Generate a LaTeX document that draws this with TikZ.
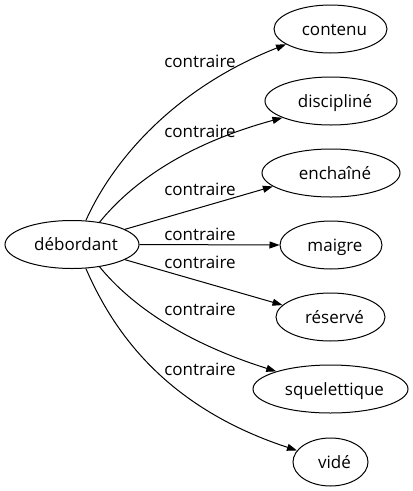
\documentclass[tikz,border=0pt]{standalone}
\usepackage{fontspec}
\setmainfont{Open Sans}
\usetikzlibrary{shapes.geometric,arrows.meta}
\begin{document}
\begin{tikzpicture}[x=1pt,y=1pt,
  every node/.style={font=\fontsize{17}{20}\selectfont},
  word/.style={draw, ellipse, line width=1pt, minimum height=48pt, inner sep=0pt, text height=12pt, text depth=0pt, execute at begin node=\hspace*{8pt}},
  lbl/.style={inner sep=0pt, text height=12pt, text depth=0pt},
  rel/.style={line width=1pt, -{Triangle[length=10pt,width=7pt]}}]
\fill[white] (0,0) rectangle (413,-491);
\useasboundingbox (0,0) rectangle (413,-491);
\node[word, minimum width=134pt] (deb) at (72,-244.5) {débordant};
\node[word, minimum width=113pt] (n1) at (330.5,-29) {contenu};
\node[word, minimum width=132pt] (n2) at (331,-101) {discipliné};
\node[word, minimum width=138pt] (n3) at (331,-173) {enchaîné};
\node[word, minimum width=102pt] (n4) at (331,-245) {maigre};
\node[word, minimum width=109pt] (n5) at (330.5,-317) {réservé};
\node[word, minimum width=155pt] (n6) at (330.5,-389) {squelettique};
\node[word, minimum width=75pt] (n7) at (330.5,-462) {vidé};
\node[lbl] (l1) at (200,-61) {contraire};
\node[lbl] (l2) at (200,-131) {contraire};
\node[lbl] (l3) at (200,-189) {contraire};
\node[lbl] (l4) at (200,-234) {contraire};
\node[lbl] (l5) at (200,-262) {contraire};
\node[lbl] (l6) at (200,-309) {contraire};
\node[lbl] (l7) at (200,-369) {contraire};
\draw[rel] (deb.60) .. controls +(25,56) and +(-116,-46) .. (n1.199);
\draw[rel] (deb.39) .. controls +(31,38) and +(-99,-27) .. (n2.199.5);
\draw[rel] (deb.16) -- (n3.193);
\draw[rel] (deb.0) -- (n4.180);
\draw[rel] (deb.-16) -- (n5.166);
\draw[rel] (deb.-39) .. controls +(31,-38) and +(-92,29) .. (n6.162);
\draw[rel] (deb.-60) .. controls +(25,-57) and +(-137,45) .. (n7.161);
\end{tikzpicture}
\end{document}
